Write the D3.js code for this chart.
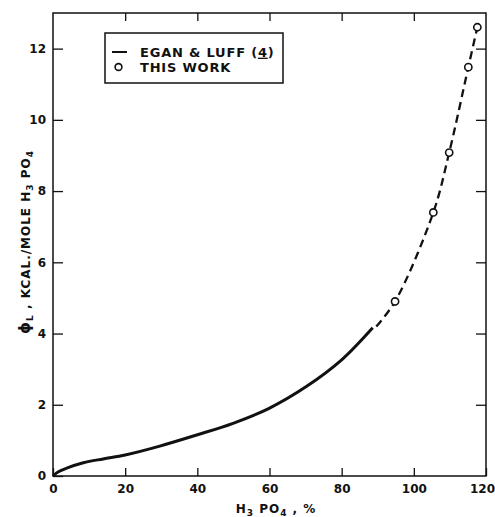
<!DOCTYPE html>
<html>
<head>
<meta charset="utf-8">
<script src="https://cdn.jsdelivr.net/npm/d3@7"></script>
<style>
  body { margin: 0; background: #fff; }
  svg { display: block; }
  text { font-family: "DejaVu Sans", sans-serif; fill: #111; }
  .tick text { font-size: 12px; font-weight: bold; }
  .tick line { stroke: #111; stroke-width: 1.3; }
</style>
</head>
<body>
<svg id="chart" width="495" height="517"></svg>
<script>
// Egan & Luff curve (smoothed literature values)
const eganX = [0, 1.5, 3.8, 8.4, 13.9, 20, 29.6, 39.8, 49.9, 59.9, 70.2, 80, 88.6]
const eganY = [0, 0.12, 0.22, 0.37, 0.48, 0.59, 0.84, 1.15, 1.48, 1.9, 2.51, 3.26, 4.16]

// this work: measured points, dashed extension runs through them
const workX = [94.8, 105.4, 109.8, 115.1, 117.6]
const workY = [4.9, 7.4, 9.08, 11.48, 12.6]
const dashX = [89.6, 94.8, 105.4, 109.8, 115.1, 117.6]
const dashY = [4.2, 4.9, 7.4, 9.08, 11.48, 12.6]

const xTicks = [0, 20, 40, 60, 80, 100, 120]
const yTicks = [0, 2, 4, 6, 8, 10, 12]

const svg = d3.select("#chart")
const margin = {top: 13, right: 9, bottom: 41, left: 53}
const width = 495, height = 517

const x = d3.scaleLinear().domain([0, 120]).range([margin.left, width - margin.right])
const y = d3.scaleLinear().domain([0, 13]).range([height - margin.bottom, margin.top])

// frame
svg.append("rect")
  .attr("x", x(0)).attr("y", y(13))
  .attr("width", x(120) - x(0)).attr("height", y(0) - y(13))
  .attr("fill", "none").attr("stroke", "#111").attr("stroke-width", 1.5)

// axes, ticks pointing inward
svg.append("g")
  .attr("transform", `translate(0, ${y(0)})`)
  .call(d3.axisBottom(x).tickValues(xTicks).tickSize(-8).tickPadding(8))
  .call(g => g.select(".domain").remove())
  .call(g => g.selectAll(".tick text").filter(d => d === 120).attr("dx", -4))

svg.append("g")
  .attr("transform", `translate(${x(0)}, 0)`)
  .call(d3.axisLeft(y).tickValues(yTicks).tickSize(-10).tickPadding(7))
  .call(g => g.select(".domain").remove())

svg.append("g")
  .attr("transform", `translate(0, ${y(13)})`)
  .call(d3.axisTop(x).tickValues(xTicks.slice(1, -1)).tickSize(-8).tickFormat(""))
  .call(g => g.select(".domain").remove())

svg.append("g")
  .attr("transform", `translate(${x(120)}, 0)`)
  .call(d3.axisRight(y).tickValues(yTicks.slice(1)).tickSize(-10).tickFormat(""))
  .call(g => g.select(".domain").remove())

const line = d3.line()
  .x(d => x(d[0]))
  .y(d => y(d[1]))
  .curve(d3.curveCatmullRom.alpha(0.5))

svg.append("path")
  .datum(eganX.map((v, i) => [v, eganY[i]]))
  .attr("d", line)
  .attr("fill", "none").attr("stroke", "#111").attr("stroke-width", 3)

svg.append("path")
  .datum(dashX.map((v, i) => [v, dashY[i]]))
  .attr("d", line)
  .attr("fill", "none").attr("stroke", "#111").attr("stroke-width", 2.3)
  .attr("stroke-dasharray", "8,5")

svg.selectAll(".dot")
  .data(workX.map((v, i) => [v, workY[i]]))
  .enter()
  .append("circle")
  .attr("class", "dot")
  .attr("cx", d => x(d[0]))
  .attr("cy", d => y(d[1]))
  .attr("r", 3.6)
  .attr("fill", "#fff").attr("stroke", "#111").attr("stroke-width", 1.6)

// legend
const lg = svg.append("g")
lg.append("rect")
  .attr("x", 105).attr("y", 33).attr("width", 178).attr("height", 50)
  .attr("fill", "#fff").attr("stroke", "#111").attr("stroke-width", 1.5)
lg.append("line")
  .attr("x1", 112).attr("x2", 127).attr("y1", 52).attr("y2", 52)
  .attr("stroke", "#111").attr("stroke-width", 2)
lg.append("circle")
  .attr("cx", 118.5).attr("cy", 67).attr("r", 3.4)
  .attr("fill", "#fff").attr("stroke", "#111").attr("stroke-width", 1.6)
const t1 = lg.append("text")
  .attr("x", 140).attr("y", 52).attr("dy", "0.36em")
  .style("font-size", "13px").style("font-weight", "bold").style("letter-spacing", "0.8px")
t1.append("tspan").text("EGAN & LUFF (")
t1.append("tspan").style("text-decoration", "underline").text("4")
t1.append("tspan").text(")")
lg.append("text")
  .attr("x", 140).attr("y", 67).attr("dy", "0.36em")
  .style("font-size", "13px").style("font-weight", "bold").style("letter-spacing", "0.8px")
  .text("THIS WORK")

// axis titles
const xl = svg.append("text")
  .attr("x", 276).attr("y", 513)
  .attr("text-anchor", "middle")
  .style("font-size", "12px").style("font-weight", "bold").style("letter-spacing", "1px")
xl.append("tspan").text("H")
xl.append("tspan").attr("dy", 3).style("font-size", "9px").text("3")
xl.append("tspan").attr("dy", -3).text(" PO")
xl.append("tspan").attr("dy", 3).style("font-size", "9px").text("4")
xl.append("tspan").attr("dy", -3).text(" , %")

const yl = svg.append("text")
  .attr("transform", "translate(30, 242) rotate(-90)")
  .attr("text-anchor", "middle")
  .style("font-size", "12px").style("font-weight", "bold").style("letter-spacing", "1px")
yl.append("tspan").style("font-size", "15px").text("ϕ")
yl.append("tspan").attr("dy", 3).style("font-size", "9px").text("L")
yl.append("tspan").attr("dy", -3).text(" ,  KCAL./MOLE H")
yl.append("tspan").attr("dy", 3).style("font-size", "9px").text("3")
yl.append("tspan").attr("dy", -3).text(" PO")
yl.append("tspan").attr("dy", 3).style("font-size", "9px").text("4")
</script>
</body>
</html>
